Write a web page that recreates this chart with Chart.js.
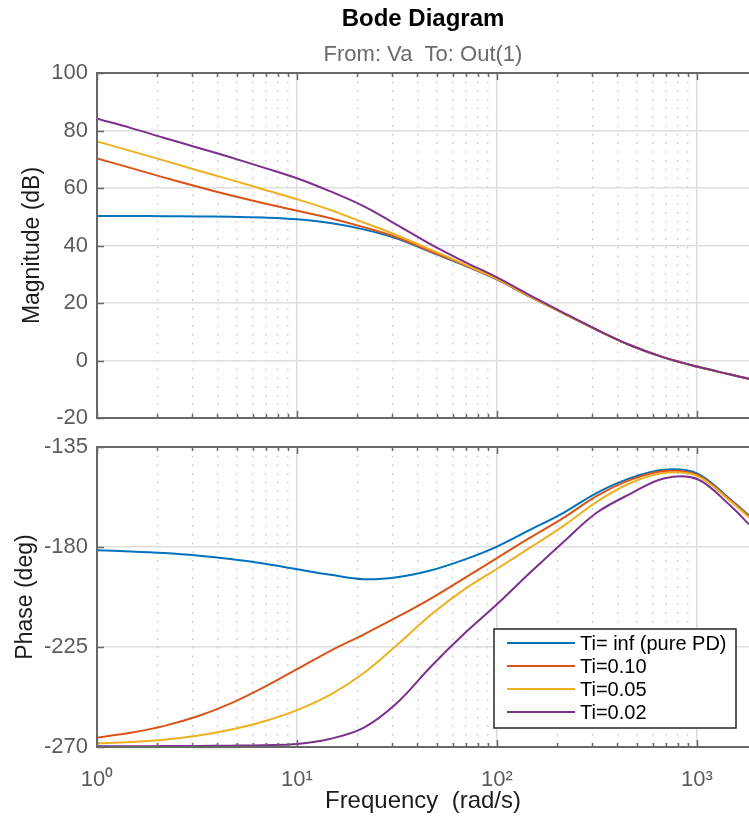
<!DOCTYPE html>
<html>
<head>
<meta charset="utf-8">
<title>Bode Diagram</title>
<script src="https://cdn.jsdelivr.net/npm/chart.js@4.4.1/dist/chart.umd.min.js"></script>
<style>
  body { margin: 0; background: #fff; }
  #wrap { position: relative; width: 749px; height: 817px; }
  canvas { position: absolute; left: 0; }
  #magChart { top: 0; }
  #phaseChart { top: 430px; }
</style>
</head>
<body>
<div id="wrap">
  <canvas id="magChart" width="749" height="430"></canvas>
  <canvas id="phaseChart" width="749" height="387"></canvas>
</div>
<script>
const freq = [1, 1.47, 2.15, 3.16, 4.64, 6.81, 10, 14.7, 21.5, 31.6, 46.4, 68.1, 100, 147, 215, 316, 464, 681, 1000, 1470, 1820];

const seriesLabels = ["Ti= inf (pure PD)", "Ti=0.10", "Ti=0.05", "Ti=0.02"];
const seriesColors = ["#0072BD", "#D95319", "#EDB120", "#7E2F8E"];

// magnitude (dB)
const magPD   = [50.3, 50.25, 50.2, 50.1, 50.0, 49.7, 49.1, 47.8, 45.6, 42.4, 37.8, 33.2, 28.2, 22.1, 16.4, 10.6, 5.3, 1.1, -2.1, -4.9, -6.4];
const magTi10 = [70.3, 67.0, 63.7, 60.5, 57.5, 54.7, 52.1, 49.5, 46.4, 42.8, 38.0, 33.3, 28.2, 22.1, 16.4, 10.6, 5.3, 1.1, -2.1, -4.9, -6.4];
const magTi05 = [76.2, 72.9, 69.6, 66.2, 62.9, 59.5, 56.1, 52.35, 48.0, 43.6, 38.6, 33.6, 28.4, 22.2, 16.4, 10.6, 5.3, 1.1, -2.1, -4.9, -6.4];
const magTi02 = [84.1, 80.9, 77.5, 74.1, 70.7, 67.1, 63.4, 58.8, 53.7, 47.2, 40.5, 34.5, 28.9, 22.6, 16.6, 10.7, 5.3, 1.1, -2.1, -4.9, -6.4];

// phase (deg)
const phPD   = [-181.5, -182.0, -182.7, -183.8, -185.4, -187.4, -190.0, -192.5, -194.5, -193.6, -190.6, -185.8, -179.8, -172.2, -164.6, -155.6, -149.0, -145.2, -146.9, -158.6, -165.8];
const phTi10 = [-265.8, -263.6, -260.6, -256.3, -250.5, -243.2, -235.0, -226.7, -219.4, -211.6, -203.3, -194.2, -185.0, -175.7, -166.9, -157.0, -149.8, -145.8, -147.5, -159.0, -166.2];
const phTi05 = [-268.4, -267.7, -266.7, -264.9, -262.2, -258.5, -253.4, -246.4, -236.8, -224.1, -210.7, -199.3, -189.8, -180.2, -170.5, -159.6, -151.2, -146.7, -148.0, -159.4, -166.7];
const phTi02 = [-269.7, -269.7, -269.6, -269.5, -269.4, -269.2, -268.7, -266.3, -261.4, -250.2, -234.1, -219.3, -205.8, -191.4, -177.7, -164.5, -156.1, -149.2, -149.4, -161.4, -169.8];

// x tick positions (log grid) and decade labels
const freqTicks = [1, 2, 3, 4, 5, 6, 7, 8, 9,
                   10, 20, 30, 40, 50, 60, 70, 80, 90,
                   100, 200, 300, 400, 500, 600, 700, 800, 900, 1000];
const decadeTicks = [1, 10, 100, 1000];
const decadeLabels = ["10\u2070", "10\u00b9", "10\u00b2", "10\u00b3"];

const magTicks = { min: -20, max: 100, step: 20 };
const phaseTicks = { min: -270, max: -135, step: 45 };

Chart.defaults.font.family = "'Liberation Sans', Arial, sans-serif";
const tickGray = "#5c5c5c";
const frameGray = "#686868";

const isDecade = v => decadeTicks.includes(v);

function makeDatasets(series) {
  return series.map((vals, i) => ({
    label: seriesLabels[i],
    data: freq.map((f, k) => ({ x: f, y: vals[k] })),
    borderColor: seriesColors[i],
    backgroundColor: seriesColors[i],
    borderWidth: 2,
    pointRadius: 0,
    tension: 0.35,
    order: series.length - i   // last series drawn on top
  }));
}

function xAxis(showLabels, height) {
  return {
    type: "logarithmic",
    min: 1,
    max: 1820,
    afterBuildTicks: s => {
      s.ticks = freqTicks.map(v => ({ value: v, major: isDecade(v) }));
    },
    afterFit: s => { s.height = height; },
    ticks: {
      display: showLabels,
      autoSkip: false,
      maxRotation: 0,
      padding: 20,
      color: tickGray,
      font: { size: 22 },
      callback: v => isDecade(v) ? decadeLabels[decadeTicks.indexOf(v)] : ""
    },
    grid: {
      drawTicks: false,
      color: c => (c.tick && isDecade(c.tick.value)) ? "#dddddd" : "#c2c2c2",
      lineWidth: c => (c.tick && isDecade(c.tick.value)) ? 1.6 : 1.3
    },
    border: {
      display: false,
      dash: c => (c.tick && !isDecade(c.tick.value)) ? [1.5, 7.2] : []
    },
    title: {
      display: showLabels,
      text: "Frequency  (rad/s)",
      color: "#1c1c1c",
      font: { size: 24 },
      padding: { top: 0, bottom: 1 }
    }
  };
}

function yAxis(range, label, titlePad) {
  return {
    min: range.min,
    max: range.max,
    afterFit: s => {
      s.width = 97;
      // don't let the end labels push the plot area around
      s.paddingTop = 0;
      s.paddingBottom = 0;
    },
    ticks: { stepSize: range.step, padding: 9, color: tickGray, font: { size: 22 } },
    grid: { drawTicks: false, color: "#dedede", lineWidth: 1.5 },
    border: { display: false },
    title: {
      display: true,
      text: label,
      color: "#1c1c1c",
      font: { size: 23 },
      padding: { top: titlePad, bottom: 0 }
    }
  };
}

// frame on left/top/bottom with inward tick marks, like MATLAB axes
const framePlugin = {
  id: "frame",
  afterDraw(chart) {
    const { ctx, chartArea: a, scales: { x, y } } = chart;
    ctx.save();
    ctx.strokeStyle = frameGray;
    ctx.lineWidth = 1.5;
    ctx.beginPath();
    x.ticks.forEach(t => {
      const px = Math.round(x.getPixelForValue(t.value)) + 0.5;
      const len = t.major ? 7 : 4;
      ctx.moveTo(px, a.top); ctx.lineTo(px, a.top + len);
      ctx.moveTo(px, a.bottom); ctx.lineTo(px, a.bottom - len);
    });
    y.ticks.forEach(t => {
      const py = Math.round(y.getPixelForValue(t.value)) + 0.5;
      ctx.moveTo(a.left, py); ctx.lineTo(a.left + 7, py);
    });
    ctx.stroke();
    ctx.lineWidth = 2;
    ctx.beginPath();
    ctx.moveTo(a.right, a.top);
    ctx.lineTo(a.left, a.top);
    ctx.lineTo(a.left, a.bottom);
    ctx.lineTo(a.right, a.bottom);
    ctx.stroke();
    ctx.restore();
  }
};

// boxed legend in the lower right of the phase plot
const boxLegend = {
  id: "boxLegend",
  afterDraw(chart) {
    const { ctx, chartArea: a } = chart;
    const w = 242, h = 99;
    const left = a.right - 13 - w, top = a.bottom - 19 - h;
    ctx.save();
    ctx.fillStyle = "#fff";
    ctx.fillRect(left, top, w, h);
    ctx.strokeStyle = "#262626";
    ctx.lineWidth = 1.5;
    ctx.strokeRect(left, top, w, h);
    ctx.font = "20px 'Liberation Sans', Arial, sans-serif";
    ctx.textBaseline = "middle";
    chart.data.datasets.forEach((ds, i) => {
      const yy = top + 14 + i * 23;
      ctx.strokeStyle = ds.borderColor;
      ctx.lineWidth = 2;
      ctx.beginPath();
      ctx.moveTo(left + 13, yy);
      ctx.lineTo(left + 81, yy);
      ctx.stroke();
      ctx.fillStyle = "#000";
      ctx.fillText(ds.label, left + 86, yy + 1);
    });
    ctx.restore();
  }
};

const magChart = new Chart(document.getElementById("magChart"), {
  type: "line",
  data: { datasets: makeDatasets([magPD, magTi10, magTi05, magTi02]) },
  options: {
    responsive: false,
    animation: false,
    layout: { padding: 0 },
    scales: {
      x: xAxis(false, 12),
      y: yAxis(magTicks, "Magnitude (dB)", 19)
    },
    plugins: {
      legend: { display: false },
      tooltip: { enabled: false },
      title: {
        display: true,
        text: "Bode Diagram",
        fullSize: false,
        color: "#000",
        font: { size: 24, weight: "bold" },
        padding: { top: 4.6, bottom: 4 }
      },
      subtitle: {
        display: true,
        text: "From: Va  To: Out(1)",
        fullSize: false,
        color: "#6a6a6a",
        font: { size: 22 },
        padding: { top: 4.4, bottom: 4.8 }
      }
    }
  },
  plugins: [framePlugin]
});

const phaseChart = new Chart(document.getElementById("phaseChart"), {
  type: "line",
  data: { datasets: makeDatasets([phPD, phTi10, phTi05, phTi02]) },
  options: {
    responsive: false,
    animation: false,
    layout: { padding: { top: 17 } },
    scales: {
      x: xAxis(true, 70),
      y: yAxis(phaseTicks, "Phase (deg)", 12)
    },
    plugins: {
      legend: { display: false },
      tooltip: { enabled: false }
    }
  },
  plugins: [framePlugin, boxLegend]
});
</script>
</body>
</html>
